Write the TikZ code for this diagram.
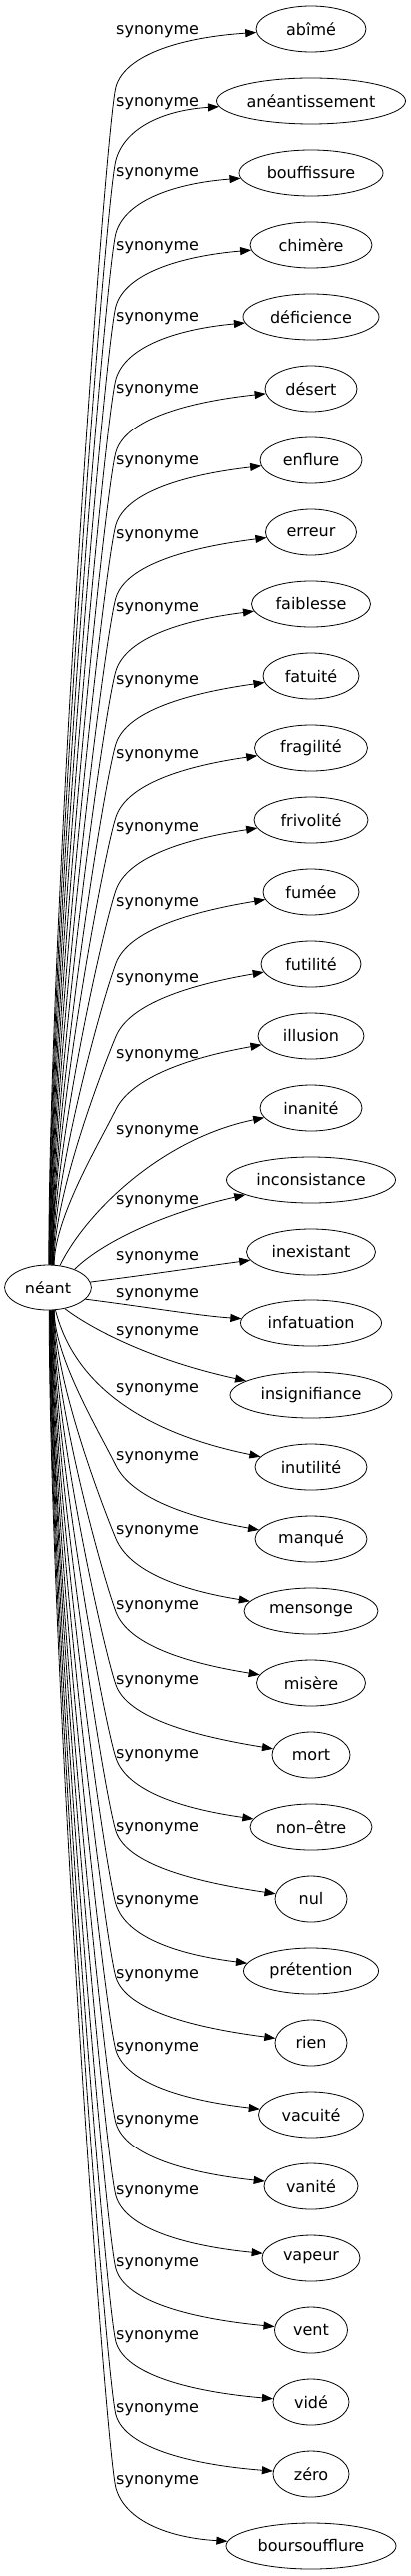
\documentclass[tikz,border=0pt]{standalone}
\usepackage{fontspec}
\setmainfont{DejaVu Sans}
\usetikzlibrary{arrows.meta,calc,shapes.geometric}
\begin{document}
\begin{tikzpicture}[x=1pt,y=-1pt,
  every node/.style={font=\fontsize{16pt}{19pt}\selectfont},
  word/.style={draw=black, ellipse, line width=0.8pt, minimum height=46pt, inner sep=0pt},
  edge/.style={draw=black, line width=0.8pt, -{Triangle[length=11pt,width=8pt]}},
  lab/.style={anchor=west, inner sep=0pt}]
\useasboundingbox (0,0) rectangle (411,2579);
\node[word, minimum width=87pt] (neant) at (48,1289) {néant};
\foreach \i/\txt/\w in {0/abîmé/110, 1/anéantissement/189, 2/bouffissure/144, 3/chimère/122, 4/déficience/136, 5/désert/92, 6/enflure/102, 7/erreur/91, 8/faiblesse/119, 9/fatuité/96, 10/fragilité/113, 11/frivolité/114, 12/fumée/96, 13/futilité/100, 14/illusion/106, 15/inanité/102, 16/inconsistance/169, 17/inexistant/129, 18/infatuation/141, 19/insignifiance/162, 20/inutilité/112, 21/manqué/112, 22/mensonge/134, 23/misère/109, 24/mort/78, 25/non–être/122, 26/nul/72, 27/prétention/135, 28/rien/72, 29/vacuité/105, 30/vanité/94, 31/vapeur/98, 32/vent/73, 33/vidé/76, 34/zéro/76, 35/boursoufflure/170} {
  \node[word, minimum width=\w pt] (n\i) at (311,{29+72*\i}) {\txt};
}
% upper edges
\foreach \i/\w in {0/110,1/189,2/144,3/122,4/136,5/92,6/102,7/91,8/119,9/96,10/113,11/114,12/96,13/100,14/106} {
  \pgfmathsetmacro{\yi}{29+72*\i}
  \pgfmathsetmacro{\ang}{88-0.9*\i}
  \pgfmathsetmacro{\by}{\yi+58+1.1*\i}
  \pgfmathsetmacro{\D}{1266-\by}
  \pgfmathsetmacro{\s}{0.24+40/\D}
  \pgfmathsetmacro{\nn}{sqrt(1+\s*\s)}
  \pgfmathsetmacro{\ax}{116-40*\s/\nn}
  \pgfmathsetmacro{\ay}{\by+40/\nn}
  \pgfmathsetmacro{\bx}{116+35*\s/\nn}
  \pgfmathsetmacro{\byy}{\by-35/\nn}
  \pgfmathsetmacro{\xw}{311-\w/2}
  \pgfmathsetmacro{\cx}{\xw-0.5*(\xw-116)}
  \pgfmathsetmacro{\cy}{\yi+8+\i}
  \pgfmathsetmacro{\up}{-0.3*\D}
  \draw[edge] (neant.\ang) .. controls ($(neant.\ang)+(0,\up)$) and (\ax,\ay) .. (116,\by) .. controls (\bx,\byy) and (\cx,\cy) .. (n\i);
}
% lower edges
\foreach \i/\w in {21/112,22/134,23/109,24/78,25/122,26/72,27/135,28/72,29/105,30/94,31/98,32/73,33/76,34/76,35/170} {
  \pgfmathsetmacro{\yi}{29+72*\i}
  \pgfmathsetmacro{\ang}{-75-0.9*(\i-21)}
  \pgfmathsetmacro{\by}{\yi-58-1.1*(35-\i)}
  \pgfmathsetmacro{\D}{\by-1312}
  \pgfmathsetmacro{\s}{0.24+40/\D}
  \pgfmathsetmacro{\nn}{sqrt(1+\s*\s)}
  \pgfmathsetmacro{\ax}{116-40*\s/\nn}
  \pgfmathsetmacro{\ay}{\by-40/\nn}
  \pgfmathsetmacro{\bx}{116+35*\s/\nn}
  \pgfmathsetmacro{\byy}{\by+35/\nn}
  \pgfmathsetmacro{\xw}{311-\w/2}
  \pgfmathsetmacro{\cx}{\xw-0.5*(\xw-116)}
  \pgfmathsetmacro{\cy}{\yi-8-(35-\i)}
  \pgfmathsetmacro{\dn}{0.3*\D}
  \draw[edge] (neant.\ang) .. controls ($(neant.\ang)+(0,\dn)$) and (\ax,\ay) .. (116,\by) .. controls (\bx,\byy) and (\cx,\cy) .. (n\i);
}
% middle edges
\draw[edge] (neant.62) .. controls (85,1215) and (160,1140) .. (n15);
\draw[edge] (neant.35) .. controls (100,1245) and (160,1215) .. (n16);
\draw[edge] (neant.8) .. controls (140,1277) and (200,1268) .. (n17);
\draw[edge] (neant.-18) .. controls (140,1308) and (200,1318) .. (n18);
\draw[edge] (neant.-52) .. controls (90,1330) and (150,1362) .. (n19);
\draw[edge] (neant.-72) .. controls (70,1370) and (120,1430) .. (n20);
% labels
\foreach \i/\ly in {0/32,1/104,2/174,3/248,4/319,5/391,6/463,7/537,8/610,9/683,10/757,11/830,12/905,13/981,14/1057,15/1133,16/1203,17/1259,18/1297,19/1335,20/1392,21/1460,22/1534,23/1609,24/1684,25/1758,26/1831,27/1904,28/1978,29/2051,30/2124,31/2195,32/2267,33/2340,34/2413,35/2485} {
  \node[lab] (l\i) at (116,\ly) {synonyme};
}
\end{tikzpicture}
\end{document}
